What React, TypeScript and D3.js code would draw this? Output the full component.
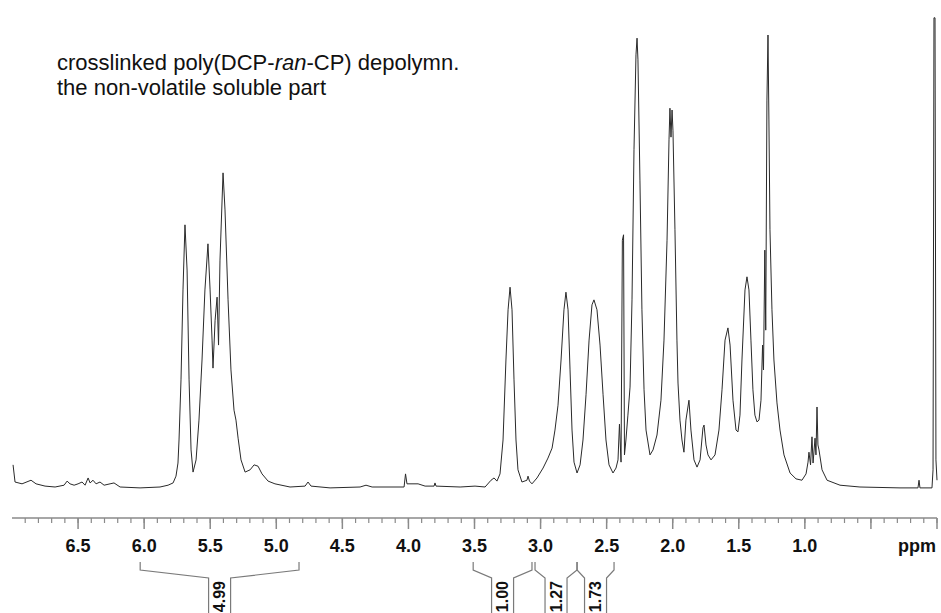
import React from "react";
import * as d3 from "d3";

// ---- data ----
const spectrumPpm = [
  6.992, 6.977, 6.924, 6.856, 6.818, 6.75, 6.674, 6.606, 6.583, 6.561, 6.53, 6.5, 6.47, 6.447, 6.424, 6.409,
  6.387, 6.364, 6.334, 6.303, 6.258, 6.228, 6.182, 6.031, 5.88, 5.819, 5.781, 5.759, 5.744, 5.736, 5.721,
  5.706, 5.691, 5.675, 5.66, 5.645, 5.63, 5.607, 5.585, 5.562, 5.54, 5.517, 5.501, 5.486, 5.479, 5.463,
  5.448, 5.437, 5.426, 5.403, 5.388, 5.365, 5.343, 5.32, 5.305, 5.289, 5.267, 5.236, 5.198, 5.168, 5.138,
  5.108, 5.062, 5.01, 4.896, 4.782, 4.76, 4.737, 4.593, 4.366, 4.321, 4.275, 4.033, 4.022, 4.011, 3.927,
  3.874, 3.806, 3.799, 3.791, 3.609, 3.496, 3.42, 3.375, 3.352, 3.33, 3.307, 3.284, 3.262, 3.246, 3.231,
  3.216, 3.201, 3.186, 3.171, 3.141, 3.103, 3.095, 3.084, 3.065, 3.027, 2.981, 2.944, 2.913, 2.891, 2.868,
  2.845, 2.823, 2.808, 2.792, 2.777, 2.762, 2.747, 2.724, 2.701, 2.679, 2.656, 2.633, 2.611, 2.596, 2.573,
  2.55, 2.527, 2.505, 2.482, 2.452, 2.429, 2.414, 2.403, 2.391, 2.381, 2.372, 2.365, 2.354, 2.339, 2.323,
  2.308, 2.293, 2.278, 2.27, 2.263, 2.248, 2.233, 2.217, 2.202, 2.172, 2.149, 2.119, 2.089, 2.066, 2.043,
  2.028, 2.021, 2.013, 2.005, 1.998, 1.983, 1.968, 1.96, 1.945, 1.93, 1.915, 1.9, 1.877, 1.862, 1.839,
  1.816, 1.793, 1.771, 1.763, 1.748, 1.733, 1.71, 1.68, 1.65, 1.627, 1.604, 1.582, 1.566, 1.544, 1.521,
  1.506, 1.491, 1.476, 1.453, 1.438, 1.423, 1.408, 1.393, 1.378, 1.362, 1.347, 1.332, 1.32, 1.313, 1.303,
  1.296, 1.287, 1.279, 1.272, 1.264, 1.249, 1.234, 1.211, 1.188, 1.158, 1.112, 1.067, 1.022, 0.991, 0.976,
  0.969, 0.957, 0.946, 0.938, 0.923, 0.916, 0.908, 0.901, 0.893, 0.87, 0.832, 0.734, 0.583, 0.28, 0.144,
  0.136, 0.129, 0.038, 0.03, 0.023, 0.015, 0.008, 0.0,
];
const spectrumIntensity = [
  4.9, 1.1, 0.7, 1.5, 0.7, 0.2, 0.0, 0.4, 1.3, 0.7, 0.4, 0.7, 1.1, 0.4, 2.0, 0.9,
  1.5, 0.7, 1.1, 0.4, 0.7, 0.9, 0.0, -0.2, 0.0, 0.4, 0.9, 2.4, 5.3, 10.4, 23.7,
  43.6, 58.0, 48.0, 23.7, 8.2, 3.3, 6.0, 14.8, 28.1, 43.6, 53.8, 43.6, 32.5, 26.3, 36.9,
  42.0, 31.4, 50.2, 69.5, 61.3, 41.4, 25.9, 17.0, 14.8, 10.8, 6.0, 3.3, 3.8, 4.9, 4.6,
  2.9, 1.3, 0.7, 0.0, 0.2, 1.1, 0.2, -0.2, 0.0, 0.4, 0.0, 0.0, 2.9, 0.7, 0.7,
  0.2, 0.2, 0.9, 0.2, 0.0, 0.2, 0.0, 1.5, 2.0, 1.3, 2.9, 10.4, 28.1, 39.2, 44.2,
  39.2, 23.7, 10.4, 3.8, 1.1, 1.5, 2.4, 1.3, 0.7, 2.0, 4.2, 6.4, 8.6, 12.6, 18.1,
  28.1, 39.2, 43.1, 39.2, 25.9, 12.6, 5.5, 3.1, 4.9, 10.4, 20.4, 32.5, 40.3, 41.4, 39.2,
  31.4, 20.4, 10.4, 4.9, 3.1, 4.2, 6.0, 13.9, 5.5, 54.6, 55.8, 7.1, 10.4, 15.9, 22.1,
  41.4, 74.6, 95.6, 99.3, 94.5, 67.9, 39.2, 21.5, 12.6, 7.1, 8.2, 11.5, 19.2, 32.5, 54.6,
  76.8, 83.8, 77.4, 83.4, 78.8, 56.9, 32.5, 23.0, 14.8, 10.4, 7.7, 14.8, 19.2, 12.6, 6.0,
  4.4, 6.0, 13.1, 13.7, 9.3, 7.1, 6.0, 7.1, 12.6, 21.5, 32.5, 35.2, 31.4, 19.2, 12.6,
  12.2, 15.9, 28.1, 43.6, 46.5, 43.6, 32.5, 21.5, 15.9, 14.4, 14.8, 19.2, 31.4, 25.9, 52.4,
  34.7, 85.6, 100, 81.2, 56.9, 39.2, 28.1, 18.6, 12.6, 7.1, 3.1, 1.8, 1.5, 2.9, 5.5,
  7.7, 4.9, 11.1, 5.3, 10.8, 7.1, 17.7, 9.3, 8.2, 3.8, 1.5, 0.4, 0.0, -0.2, -0.2,
  1.5, -0.2, -0.2, 3.8, 103.8, 103.8, 6.0, 1.5,
];

const majorTicks = [6.5, 6.0, 5.5, 5.0, 4.5, 4.0, 3.5, 3.0, 2.5, 2.0, 1.5, 1.0, 0.5, 0.0];
const tickLabels = ["6.5", "6.0", "5.5", "5.0", "4.5", "4.0", "3.5", "3.0", "2.5", "2.0", "1.5", "1.0"];
const minorTickStep = 0.1;

const integralFrom = [6.03, 3.51, 3.042, 2.724];
const integralTo = [4.828, 3.065, 2.724, 2.444];
const integralValues = ["4.99", "1.00", "1.27", "1.73"];

const titleLine1 = ["crosslinked poly(DCP-", "ran", "-CP) depolymn."];
const titleLine2 = "the non-volatile soluble part";

const W = 941;
const H = 613;
const FONT = "'Liberation Sans', Arial, Helvetica, sans-serif";

export default function App() {
  const x = d3.scaleLinear().domain([7.0, 0.0]).range([12, 937]);
  const y = d3.scaleLinear().domain([0, 100]).range([487, 35]);

  const pts: [number, number][] = spectrumPpm.map((p, i) => [p, spectrumIntensity[i]]);
  const line = d3
    .line<[number, number]>()
    .x((d) => x(d[0]))
    .y((d) => y(d[1]));

  const axisY = 518;
  const minorTicks = d3.range(69, -1, -1).map((k) => +(k * minorTickStep).toFixed(1));

  return (
    <svg
      width={W}
      height={H}
      style={{ position: "absolute", left: 0, top: 0, background: "#fff" }}
      fontFamily={FONT}
    >
      <rect width={W} height={H} fill="#fff" />
      {/* title */}
      <text x={57} y={70} fontSize={22} fill="#111">
        <tspan>{titleLine1[0]}</tspan>
        <tspan fontStyle="italic">{titleLine1[1]}</tspan>
        <tspan>{titleLine1[2]}</tspan>
      </text>
      <text x={57} y={95} fontSize={22} fill="#111">
        {titleLine2}
      </text>

      {/* spectrum */}
      <path d={line(pts) || ""} fill="none" stroke="#2a2a2a" strokeWidth={1} strokeLinejoin="round" />

      {/* axis */}
      <line x1={x(7.0)} x2={x(0)} y1={axisY} y2={axisY} stroke="#8a8a8a" strokeWidth={1.5} />
      {minorTicks.map((t) => (
        <line key={"m" + t} x1={x(t)} x2={x(t)} y1={axisY} y2={axisY + 5} stroke="#8a8a8a" strokeWidth={1.2} />
      ))}
      {majorTicks.map((t) => (
        <line key={"M" + t} x1={x(t)} x2={x(t)} y1={axisY} y2={axisY + 11} stroke="#8a8a8a" strokeWidth={1.5} />
      ))}
      {tickLabels.map((l, i) => (
        <text
          key={"l" + l}
          x={x(majorTicks[i])}
          y={552}
          textAnchor="middle"
          fontSize={18}
          fontWeight="bold"
          fill="#111"
        >
          {l}
        </text>
      ))}
      <text x={936} y={552} textAnchor="end" fontSize={18} fontWeight="bold" fill="#111">
        ppm
      </text>

      {/* integrals */}
      {integralValues.map((v, i) => {
        const x1 = x(integralFrom[i]);
        const x2 = x(integralTo[i]);
        const cx = (x1 + x2) / 2;
        const hw = 11;
        return (
          <g key={"int" + i}>
            <path
              d={`M${x1},562V570L${cx - hw},578V${H}M${x2},562V570L${cx + hw},578V${H}`}
              fill="none"
              stroke="#7a7a7a"
              strokeWidth={1.2}
            />
            <text
              transform={`translate(${cx},581) rotate(-90)`}
              textAnchor="end"
              dominantBaseline="central"
              fontSize={16}
              fontWeight="bold"
              fill="#111"
            >
              {v}
            </text>
          </g>
        );
      })}
    </svg>
  );
}
